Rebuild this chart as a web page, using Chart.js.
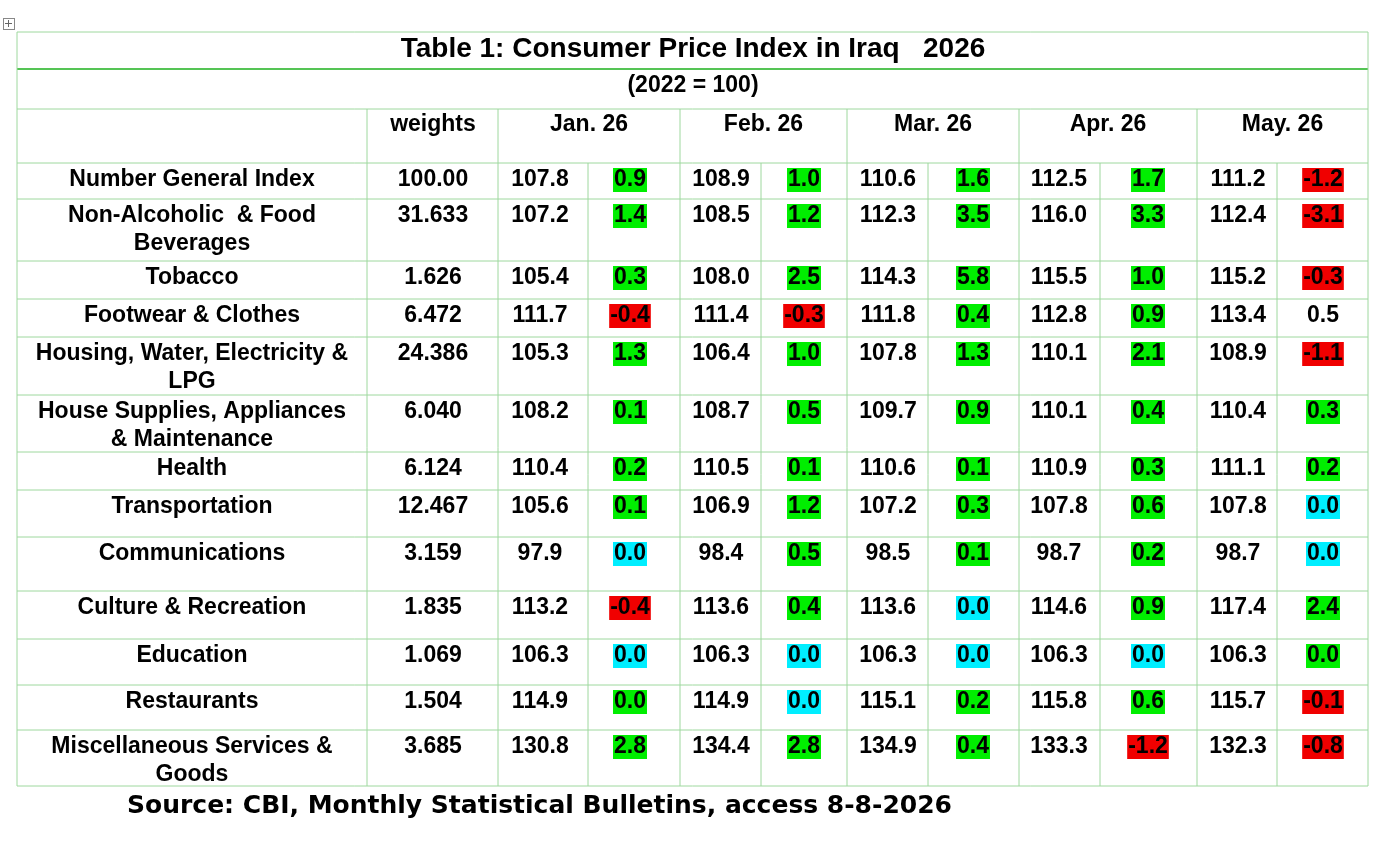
<!DOCTYPE html>
<html>
<head>
<meta charset="utf-8">
<script src="https://cdn.jsdelivr.net/npm/chart.js@4/dist/chart.umd.min.js"></script>
<style>
  body { margin: 0; background: #fff; }
  canvas { display: block; }
</style>
</head>
<body>
<canvas id="cpiTable" width="1379" height="843"></canvas>
<script>
// data
const months = ["Jan. 26", "Feb. 26", "Mar. 26", "Apr. 26", "May. 26"];
const categories = [
  ["Number General Index"],
  ["Non-Alcoholic  & Food", "Beverages"],
  ["Tobacco"],
  ["Footwear & Clothes"],
  ["Housing, Water, Electricity &", "LPG"],
  ["House Supplies, Appliances", "& Maintenance"],
  ["Health"],
  ["Transportation"],
  ["Communications"],
  ["Culture & Recreation"],
  ["Education"],
  ["Restaurants"],
  ["Miscellaneous Services &", "Goods"]
];
const weights = ["100.00", "31.633", "1.626", "6.472", "24.386", "6.040", "6.124", "12.467", "3.159", "1.835", "1.069", "1.504", "3.685"];
const indexValues = [
  [107.8, 108.9, 110.6, 112.5, 111.2],
  [107.2, 108.5, 112.3, 116.0, 112.4],
  [105.4, 108.0, 114.3, 115.5, 115.2],
  [111.7, 111.4, 111.8, 112.8, 113.4],
  [105.3, 106.4, 107.8, 110.1, 108.9],
  [108.2, 108.7, 109.7, 110.1, 110.4],
  [110.4, 110.5, 110.6, 110.9, 111.1],
  [105.6, 106.9, 107.2, 107.8, 107.8],
  [97.9, 98.4, 98.5, 98.7, 98.7],
  [113.2, 113.6, 113.6, 114.6, 117.4],
  [106.3, 106.3, 106.3, 106.3, 106.3],
  [114.9, 114.9, 115.1, 115.8, 115.7],
  [130.8, 134.4, 134.9, 133.3, 132.3]
];
const changes = [
  [0.9, 1.0, 1.6, 1.7, -1.2],
  [1.4, 1.2, 3.5, 3.3, -3.1],
  [0.3, 2.5, 5.8, 1.0, -0.3],
  [-0.4, -0.3, 0.4, 0.9, 0.5],
  [1.3, 1.0, 1.3, 2.1, -1.1],
  [0.1, 0.5, 0.9, 0.4, 0.3],
  [0.2, 0.1, 0.1, 0.3, 0.2],
  [0.1, 1.2, 0.3, 0.6, 0.0],
  [0.0, 0.5, 0.1, 0.2, 0.0],
  [-0.4, 0.4, 0.0, 0.9, 2.4],
  [0.0, 0.0, 0.0, 0.0, 0.0],
  [0.0, 0.0, 0.2, 0.6, -0.1],
  [2.8, 2.8, 0.4, -1.2, -0.8]
];
// highlight: g = green, r = red, c = cyan, "" = none
const highlights = [
  ["g", "g", "g", "g", "r"],
  ["g", "g", "g", "g", "r"],
  ["g", "g", "g", "g", "r"],
  ["r", "r", "g", "g", ""],
  ["g", "g", "g", "g", "r"],
  ["g", "g", "g", "g", "g"],
  ["g", "g", "g", "g", "g"],
  ["g", "g", "g", "g", "c"],
  ["c", "g", "g", "g", "c"],
  ["r", "g", "c", "g", "g"],
  ["c", "c", "c", "c", "g"],
  ["g", "c", "g", "g", "r"],
  ["g", "g", "g", "r", "r"]
];

// layout (page units)
const colEdges = [17, 367, 498, 680, 847, 1019, 1197, 1368];
const innerEdges = [588, 761, 928, 1100, 1277];
const valueX = [540, 721, 888, 1059, 1238];
const changeX = [630, 804, 973, 1148, 1323];
const rowEdges = [163, 199, 261, 299, 337, 395, 452, 490, 537, 591, 639, 685, 730, 786];
const fillColors = { g: "#00ee00", r: "#f00000", c: "#00eeff" };
const gridColor = "#9ed89e";
const font = (s) => `bold ${s}px "Liberation Sans", Arial, sans-serif`;

const tablePlugin = {
  id: "tablePlugin",
  afterDraw(chart) {
    const { ctx } = chart;
    const X = (v) => chart.scales.x.getPixelForValue(v);
    const Y = (v) => chart.scales.y.getPixelForValue(v);
    const line = (x1, y1, x2, y2, w, c) => {
      ctx.beginPath();
      ctx.strokeStyle = c; ctx.lineWidth = w;
      ctx.moveTo(X(x1), Y(y1)); ctx.lineTo(X(x2), Y(y2)); ctx.stroke();
    };
    const text = (t, x, y, f, align) => {
      ctx.font = f; ctx.fillStyle = "#000";
      ctx.textAlign = align || "center"; ctx.textBaseline = "middle";
      ctx.fillText(t, X(x), Y(y));
    };
    const left = colEdges[0], right = colEdges[colEdges.length - 1];
    const bottom = rowEdges[rowEdges.length - 1];

    // grid
    [32, 109].concat(rowEdges).forEach(y => line(left, y, right, y, 1, gridColor));
    line(left, 69, right, 69, 2, "#55c455");
    line(left, 32, left, bottom, 1, gridColor);
    line(right, 32, right, bottom, 1, gridColor);
    colEdges.slice(1, -1).forEach(x => line(x, 109, x, bottom, 1, gridColor));
    innerEdges.forEach(x => line(x, 163, x, bottom, 1, gridColor));

    // titles
    text("Table 1: Consumer Price Index in Iraq   2026", 693, 49, font(28));
    text("(2022 = 100)", 693, 86, font(23));
    text("weights", 433, 125, font(23));
    months.forEach((m, i) => text(m, (colEdges[i + 2] + colEdges[i + 3]) / 2, 125, font(23)));

    // body
    categories.forEach((lines, r) => {
      const top = rowEdges[r];
      const y = top + 17;
      lines.forEach((l, k) => text(l, 192, y + k * 28, font(23)));
      text(weights[r], 433, y, font(23));
      months.forEach((m, i) => {
        text(indexValues[r][i].toFixed(1), valueX[i], y, font(23));
        const label = changes[r][i].toFixed(1);
        const h = highlights[r][i];
        if (h) {
          ctx.font = font(23);
          const w = ctx.measureText(label).width + 2;
          ctx.fillStyle = fillColors[h];
          ctx.fillRect(X(changeX[i]) - w / 2, Y(y - 12), w, Y(y + 12) - Y(y - 12));
        }
        text(label, changeX[i], y, font(23));
      });
    });

    ctx.font = `bold 25px "DejaVu Sans", Verdana, sans-serif`;
    ctx.fillStyle = "#000"; ctx.textAlign = "left"; ctx.textBaseline = "middle";
    ctx.fillText("Source: CBI, Monthly Statistical Bulletins, access 8-8-2026", X(127), Y(806));

    // table move handle
    ctx.strokeStyle = "#888"; ctx.lineWidth = 1;
    ctx.strokeRect(X(3) + 0.5, Y(18) + 0.5, 11, 11);
    line(5, 23.5, 12, 23.5, 1, "#666");
    line(8.5, 20, 8.5, 27, 1, "#666");
  }
};

new Chart(document.getElementById("cpiTable"), {
  type: "scatter",
  data: { datasets: [{ data: [] }] },
  options: {
    responsive: false,
    animation: false,
    layout: { padding: 0 },
    plugins: { legend: { display: false }, tooltip: { enabled: false } },
    scales: {
      x: { type: "linear", min: 0, max: 1379, display: false },
      y: { type: "linear", min: 0, max: 843, reverse: true, display: false }
    }
  },
  plugins: [tablePlugin]
});
</script>
</body>
</html>
